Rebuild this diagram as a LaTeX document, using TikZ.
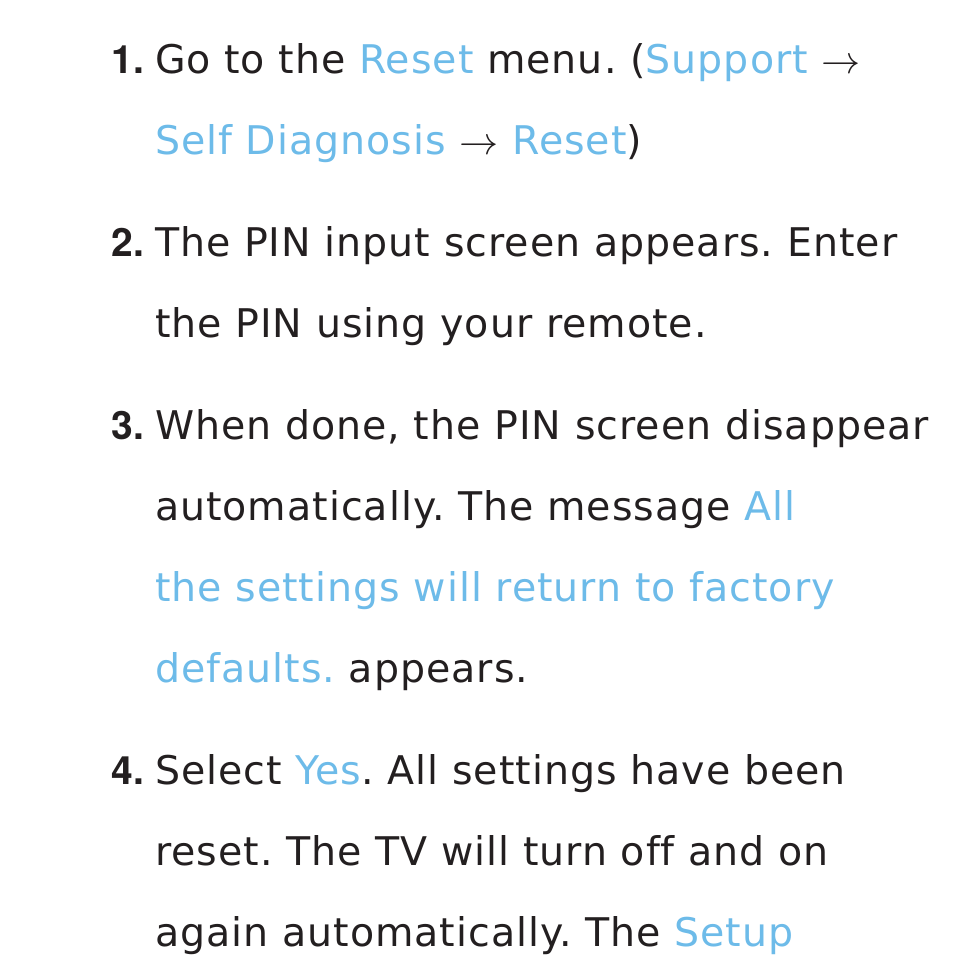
\documentclass[tikz,border=0pt]{standalone}
\usepackage{fontspec}
\setmainfont{DejaVu Sans}[Ligatures=NoCommon,LetterSpace=2.6]
\newfontfamily\numfont{TeX Gyre Heros}[Ligatures=NoCommon]
\definecolor{hl}{HTML}{6DBBE9}
\definecolor{ink}{HTML}{231F20}
\newcommand{\hlt}[1]{\textcolor{hl}{#1}}
\newcommand{\arr}{\textcolor{ink}{\scalebox{1.57}{$\rightarrow$}}}
\frenchspacing
\begin{document}
\begin{tikzpicture}[x=1pt,y=-1pt,
  every node/.style={inner sep=0pt,outer sep=0pt},
  txt/.style={anchor=base west,font=\fontsize{39.5}{39.5}\selectfont,text=ink},
  num/.style={anchor=base east,font=\fontsize{39}{39}\selectfont\numfont\bfseries,text=ink}]
\useasboundingbox[fill=white] (0,0) rectangle (954,977);
\node[num] (n1) at (144,73) {1.};
\node[txt] (l1) at (155,73) {Go to the \hlt{Reset} menu. (\hlt{Support} \arr};
\node[txt] (l2) at (155,154) {\hlt{Self Diagnosis} \arr{} \hlt{Reset})};
\node[num] (n2) at (144,256) {2.};
\node[txt] (l3) at (155,256) {The PIN input screen appears. Enter};
\node[txt] (l4) at (155,337) {the PIN using your remote.};
\node[num] (n3) at (144,439) {3.};
\node[txt] (l5) at (155,439) {When done, the PIN screen disappear};
\node[txt] (l6) at (155,520) {automatically. The message \hlt{All}};
\node[txt] (l7) at (155,601) {\hlt{the settings will return to factory}};
\node[txt] (l8) at (155,682) {\hlt{defaults.} appears.};
\node[num] (n4) at (144,784) {4.};
\node[txt] (l9) at (155,784) {Select \hlt{Yes}. All settings have been};
\node[txt] (l10) at (155,865) {reset. The TV will turn off and on};
\node[txt] (l11) at (155,946) {again automatically. The \hlt{Setup}};
\end{tikzpicture}
\end{document}
